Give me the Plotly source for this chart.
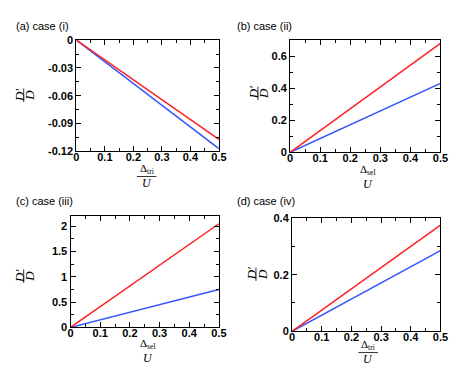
import plotly.graph_objects as go
from plotly.subplots import make_subplots

W, H = 458, 367

# data: lines from 0 to 0.5
x_vals = [0.0, 0.5]
red_a = [0.0, -0.107]
blue_a = [0.0, -0.117]
red_b = [0.0, 0.68]
blue_b = [0.0, 0.43]
red_c = [0.0, 2.05]
blue_c = [0.0, 0.75]
red_d = [0.0, 0.375]
blue_d = [0.0, 0.285]

x_ticks = [0, 0.1, 0.2, 0.3, 0.4, 0.5]
x_labels = ["0", "0.1", "0.2", "0.3", "0.4", "0.5"]
y_ticks_a = [-0.12, -0.09, -0.06, -0.03, 0]
y_labels_a = ["-0.12", "-0.09", "-0.06", "-0.03", "0"]
y_ticks_b = [0, 0.2, 0.4, 0.6]
y_labels_b = ["0", "0.2", "0.4", "0.6"]
y_ticks_c = [0, 0.5, 1, 1.5, 2]
y_labels_c = ["0", "0.5", "1", "1.5", "2"]
y_ticks_d = [0, 0.2, 0.4]
y_labels_d = ["0", "0.2", "0.4"]

titles = ["(a) case (i)", "(b) case (ii)", "(c) case (iii)", "(d) case (iv)"]
x_subs = ["tri", "sel", "sel", "tri"]

RED = "#ff2222"
BLUE = "#3355ff"

fig = make_subplots(rows=2, cols=2)

panels = [
    (1, 1, red_a, blue_a, [-0.12, 0], y_ticks_a, y_labels_a, 0.015),
    (1, 2, red_b, blue_b, [0, 0.7], y_ticks_b, y_labels_b, 0.1),
    (2, 1, red_c, blue_c, [0, 2.2], y_ticks_c, y_labels_c, 0.25),
    (2, 2, red_d, blue_d, [0, 0.4], y_ticks_d, y_labels_d, 0.1),
]

# pixel boxes (left, right, top, bottom)
boxes = [(67, 213, 27, 142), (286, 440, 27, 143), (61, 213, 209, 324), (288, 440, 211, 328)]

tick_font = dict(family="Liberation Sans, Arial", size=11, color="black")


def bold(labels):
    return ["<b>" + s + "</b>" for s in labels]


for i, (r, c, red, blue, yr, yt, yl, ymin) in enumerate(panels):
    fig.add_trace(go.Scatter(x=x_vals, y=blue, mode="lines",
                             line=dict(color=BLUE, width=1.5), showlegend=False), row=r, col=c)
    fig.add_trace(go.Scatter(x=x_vals, y=red, mode="lines",
                             line=dict(color=RED, width=1.5), showlegend=False), row=r, col=c)
    left, right, top, bottom = boxes[i]
    fig.update_xaxes(range=[0, 0.5], tickvals=x_ticks, ticktext=bold(x_labels), ticks="inside", ticklen=5,
                     tickcolor="black", mirror="ticks", showline=True, linecolor="black",
                     linewidth=1.2, showgrid=False, zeroline=False, tickfont=tick_font,
                     ticklabelstandoff=-5,
                     minor=dict(dtick=0.05, tick0=0, ticks="inside", ticklen=3, tickcolor="black"),
                     domain=[left / W, right / W], row=r, col=c)
    fig.update_yaxes(range=yr, tickvals=yt, ticktext=bold(yl), ticks="inside", ticklen=5,
                     tickcolor="black", mirror="ticks", showline=True, linecolor="black",
                     linewidth=1.2, showgrid=False, zeroline=False, tickfont=tick_font,
                     minor=dict(dtick=ymin, tick0=0, ticks="inside", ticklen=3, tickcolor="black"),
                     domain=[1 - bottom / H, 1 - top / H], row=r, col=c)

annotations = []
shapes = []


def px_ann(text, x, y, size=11, angle=0, family="Liberation Sans, Arial", anchor="center"):
    annotations.append(dict(text=text, x=x / W, y=1 - y / H, xref="paper", yref="paper",
                            showarrow=False, textangle=angle, xanchor=anchor, yanchor="middle",
                            font=dict(family=family, size=size, color="black")))


def px_line(x0, y0, x1, y1):
    shapes.append(dict(type="line", xref="paper", yref="paper", x0=x0 / W, x1=x1 / W,
                       y0=1 - y0 / H, y1=1 - y1 / H, line=dict(color="black", width=0.8)))


serif = "Liberation Serif, DejaVu Serif"

# panel titles
title_pos = [(3, 12), (229, 12), (3, 193), (229, 193)]
for t, (tx, ty) in zip(titles, title_pos):
    px_ann(t, tx, ty, size=11, anchor="left")

# y-axis titles D'/D
ylab_pos = [(13, 84), (253, 82), (13, 271), (251, 269)]
for (yx, yy) in ylab_pos:
    px_ann("<i>D′</i>", yx - 5, yy, size=13, angle=-90, family=serif)
    px_ann("<i>D</i>", yx + 6, yy, size=13, angle=-90, family=serif)
    px_line(yx, yy - 7, yx, yy + 7)

# x-axis titles Delta/U
xlab_pos = [(139, 168, True), (366, 169, False), (140, 349, False), (366, 350, True)]
for sub, (xx, xy, bar) in zip(x_subs, xlab_pos):
    px_ann("Δ<sub>" + sub + "</sub>", xx, xy - 8, size=11, family=serif)
    px_ann("<i>U</i>", xx, xy + 7, size=12, family=serif)
    if bar:
        px_line(xx - 10, xy, xx + 10, xy)

fig.update_layout(width=W, height=H, margin=dict(l=0, r=0, t=0, b=0),
                  plot_bgcolor="white", paper_bgcolor="white",
                  annotations=annotations, shapes=shapes)

fig.write_html("out.html")
